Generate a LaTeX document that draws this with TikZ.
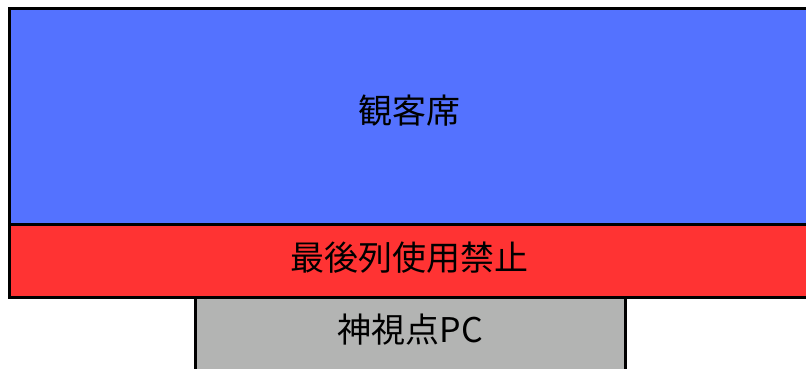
\documentclass[tikz,border=0pt]{standalone}
\usepackage{fontspec}
\newfontfamily\jpfont{Noto Sans CJK JP}
\usetikzlibrary{positioning}
\definecolor{seatblue}{RGB}{84,114,255}
\definecolor{banred}{RGB}{255,51,51}
\definecolor{pcgray}{RGB}{179,180,179}
\tikzstyle{area}=[draw=black,line width=3pt]
\tikzstyle{every text node part}=[font=\jpfont\fontsize{34}{40}\selectfont]

\begin{document}
\begin{tikzpicture}[x=1pt,y=-1pt]
      \useasboundingbox (0,0) rectangle (806,368);
      \clip (0,0) rectangle (806,368);

      \draw [area,fill=seatblue] (9.5,8.5) rectangle (810,224);
      \draw [area,fill=banred] (9.5,224) rectangle (810,297);
      \draw [area,fill=pcgray] (195.5,297) rectangle (625.5,380);

      \node (seats) at (409.5,111) {観客席};
      \node (lastrow) at (409.5,258) {最後列使用禁止};
      \node (godview) at (410.5,330) {神視点PC};

    \end{tikzpicture}
\end{document}
